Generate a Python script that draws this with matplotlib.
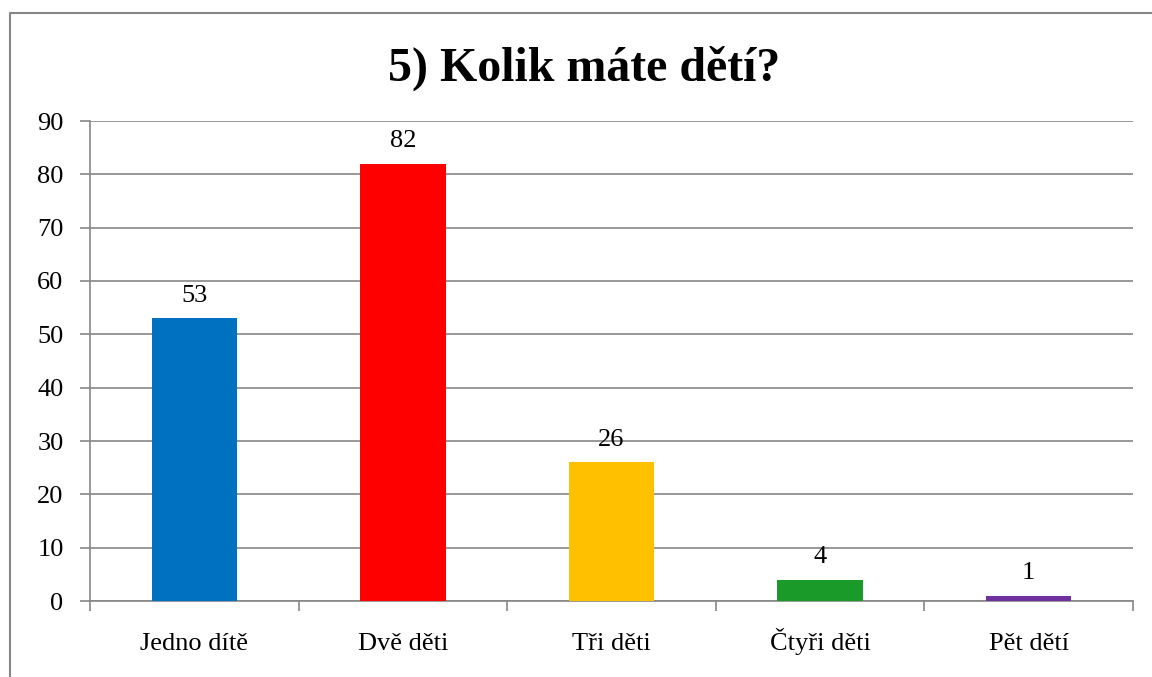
import matplotlib
matplotlib.use("Agg")
import matplotlib.pyplot as plt
from matplotlib.lines import Line2D

categories = ["Jedno dítě", "Dvě děti", "Tři děti", "Čtyři děti", "Pět dětí"]
values = [53, 82, 26, 4, 1]
colors = ["#0070C0", "#FF0000", "#FFC000", "#1A9A28", "#7030A0"]
yticks = list(range(0, 100, 10))

plt.rcParams["font.family"] = ["Liberation Serif", "DejaVu Serif"]

fig = plt.figure(figsize=(11.52, 6.77), dpi=100)
ax = fig.add_axes([90 / 1152, 1 - 601 / 677, 1043 / 1152, 480 / 677])

x = list(range(len(categories)))
ax.bar(x, values, width=0.41, color=colors, zorder=3)
for xi, v in zip(x, values):
    ax.text(xi, v + 2.2, str(v), ha="center", va="bottom", fontsize=19, color="black")

ax.set_xlim(-0.5, len(categories) - 0.5)
ax.set_ylim(0, 90)
ax.set_yticks(yticks)
ax.set_yticklabels([str(t) for t in yticks], fontsize=19)
ax.yaxis.grid(True, color="#868686", linewidth=1.2, zorder=0)
ax.tick_params(axis="y", length=7, color="#868686", width=1.2, pad=12)

ax.set_xticks(x)
ax.set_xticklabels(categories, fontsize=19)
ax.tick_params(axis="x", length=0, pad=35)
for lbl in ax.get_xticklabels():
    lbl.set_verticalalignment("baseline")
ax.set_xticks([i - 0.5 for i in range(len(categories) + 1)], minor=True)
ax.tick_params(axis="x", which="minor", length=7, color="#868686", width=1.2)

for side in ["top", "right"]:
    ax.spines[side].set_visible(False)
for side in ["left", "bottom"]:
    ax.spines[side].set_color("#868686")
    ax.spines[side].set_linewidth(1.2)

fig.text(584 / 1152, 1 - 68 / 677, "5) Kolik máte dětí?", ha="center", va="center",
         fontsize=34.5, fontweight="bold")

# chart area border (left and top edges only visible in the crop)
border = Line2D([10 / 1152, 10 / 1152, 1.02], [-0.02, 1 - 12.5 / 677, 1 - 12.5 / 677],
                transform=fig.transFigure, color="#868686", linewidth=1.5)
fig.add_artist(border)

fig.savefig("out.png", dpi=100)
